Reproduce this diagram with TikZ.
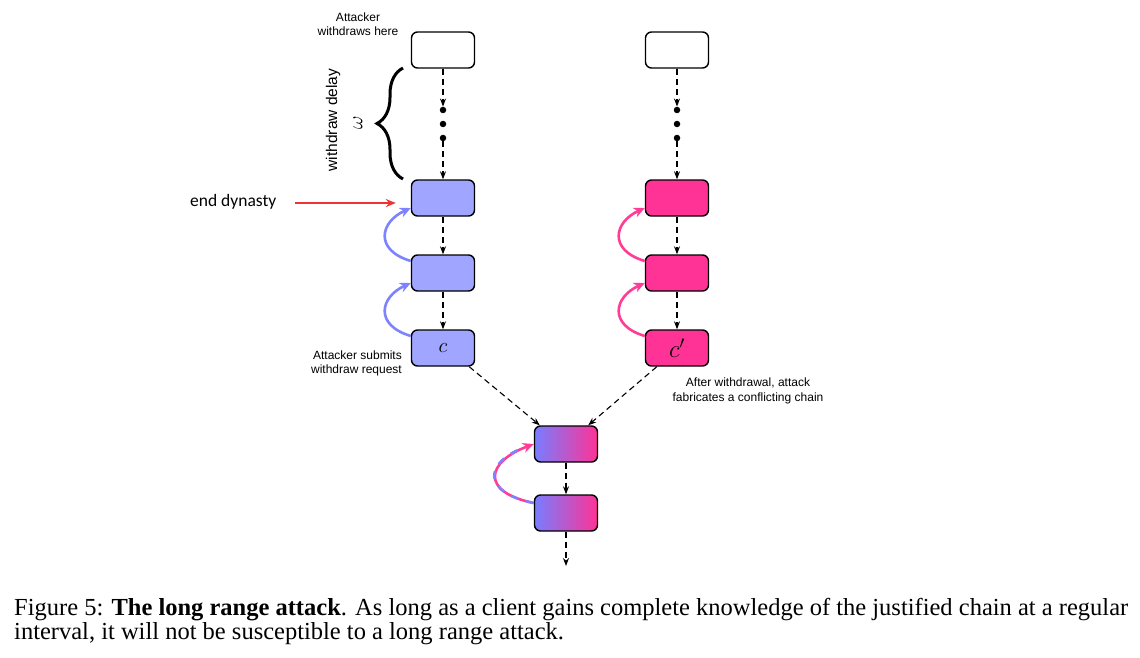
\documentclass[tikz,border=0pt]{standalone}
\usepackage{fontspec}
\setmainfont{Liberation Serif}
\setsansfont{Liberation Sans}
\newfontfamily\calib{Carlito}
\usetikzlibrary{arrows.meta,decorations.pathreplacing}
\definecolor{bfill}{RGB}{160,165,255}
\definecolor{bline}{RGB}{125,130,255}
\definecolor{pfill}{RGB}{255,50,150}
\definecolor{pline}{RGB}{255,60,150}
\definecolor{gleft}{RGB}{120,125,255}
\definecolor{redarr}{RGB}{240,50,50}
\begin{document}
\begin{tikzpicture}[x=1pt,y=-1pt,
  blk/.style={draw=black, line width=1.4pt, rounded corners=6pt, minimum width=63pt, minimum height=36pt, inner sep=0pt},
  bnode/.style={blk, fill=bfill},
  pnode/.style={blk, fill=pfill},
  gnode/.style={blk, left color=gleft, right color=pfill},
  dlink/.style={draw=black, line width=1.1pt, dash pattern=on 6pt off 4pt, -{Stealth[length=8pt,width=6pt]}},
  dotn/.style={circle, fill=black, inner sep=0pt, minimum size=6.5pt},
  curv/.style={line width=2.6pt, -{Stealth[length=11pt,width=10pt]}},
  small/.style={font=\sffamily\fontsize{12}{14.5}\selectfont, align=center, inner sep=0pt},
  mtext/.style={font=\fontsize{22}{26}\selectfont},
  captxt/.style={font=\fontsize{24.5}{25}\selectfont, inner sep=0pt, anchor=base west}
]
\useasboundingbox (0,0) rectangle (1140,658);

% left column
\node[blk, fill=white] (lt) at (443,50) {};
\node[dotn] (ld1) at (443,110) {};
\node[dotn] (ld2) at (443,124) {};
\node[dotn] (ld3) at (443,138) {};
\node[bnode] (b1) at (443,198) {};
\node[bnode] (b2) at (443,273) {};
\node[bnode, mtext] (bc) at (443,348) {$c$};

% right column
\node[blk, fill=white] (rt) at (677,50) {};
\node[dotn] (rd1) at (677,110) {};
\node[dotn] (rd2) at (677,124) {};
\node[dotn] (rd3) at (677,138) {};
\node[pnode] (p1) at (677,198) {};
\node[pnode] (p2) at (677,273) {};
\node[pnode, font=\fontsize{25}{28}\selectfont] (pc) at (677,348) {$c'$};

% bottom
\node[gnode] (g1) at (566,444) {};
\node[gnode] (g2) at (566,513) {};
\coordinate (gend) at (566,566);

% dashed links
\draw[dlink] (lt) -- (ld1);
\draw[dlink] (ld3) -- (b1);
\draw[dlink] (b1) -- (b2);
\draw[dlink] (b2) -- (bc);
\draw[dlink] (rt) -- (rd1);
\draw[dlink] (rd3) -- (p1);
\draw[dlink] (p1) -- (p2);
\draw[dlink] (p2) -- (pc);
\draw[dlink] ([xshift=-6pt]bc.south east) -- ([xshift=6pt]g1.north west);
\draw[dlink] ([xshift=12pt]pc.south west) -- ([xshift=-10pt]g1.north east);
\draw[dlink] (g1) -- (g2);
\draw[dlink] (g2) -- (gend);

% curved arrows
\draw[curv, bline] ([yshift=12pt]b2.west) .. controls (374,250) and (380,222) .. ([yshift=-10pt]b1.west);
\draw[curv, bline] ([yshift=12pt]bc.west) .. controls (374,325) and (380,297) .. ([yshift=-10pt]b2.west);
\draw[curv, pline] ([yshift=12pt]p2.west) .. controls (608,250) and (614,222) .. ([yshift=-10pt]p1.west);
\draw[curv, pline] ([yshift=12pt]pc.west) .. controls (608,325) and (614,297) .. ([yshift=-10pt]p2.west);
\draw[curv, pline] ([yshift=10pt]g2.west) .. controls (480,492) and (486,462) .. (g1.west);
\draw[line width=2.6pt, bline, dash pattern=on 8pt off 8pt, shorten >=12pt] ([yshift=10pt]g2.west) .. controls (480,492) and (486,462) .. (g1.west);

% brace and labels
\draw[line width=3pt, decorate, decoration={brace, amplitude=26pt}] (403,179) -- (403,68);
\node[font=\sffamily\fontsize{15.5}{18}\selectfont, rotate=90, inner sep=0pt] (wd) at (333,120) {withdraw delay};
\node[font=\fontsize{21}{24}\selectfont, rotate=90, inner sep=0pt] (om) at (358,123) {$\omega$};
\node[small] (atk) at (358,24) {Attacker\\withdraws here};
\node[small, align=right, anchor=east] (sub) at (402,363.5) {Attacker submits\\withdraw request};
\node[small] (aft) at (748,391) {After withdrawal, attack\\fabricates a conflicting chain};

% end dynasty
\node[font=\calib\fontsize{17.5}{20}\selectfont, inner sep=0pt, anchor=west] (ed) at (190,202) {end dynasty};
\coordinate (edstart) at (295,203);
\draw[redarr, line width=1.8pt, -{Stealth[length=10pt,width=8pt]}] (edstart) -- ([xshift=-15pt,yshift=-5pt]b1.west);

% caption
\node[captxt] (cap1) at (14,615) {\makebox[1114pt][s]{Figure 5: \textbf{The long range attack}. As long as a client gains complete knowledge of the justified chain at a regular}};
\node[captxt] (cap2) at (14,639) {interval, it will not be susceptible to a long range attack.};
\end{tikzpicture}
\end{document}
